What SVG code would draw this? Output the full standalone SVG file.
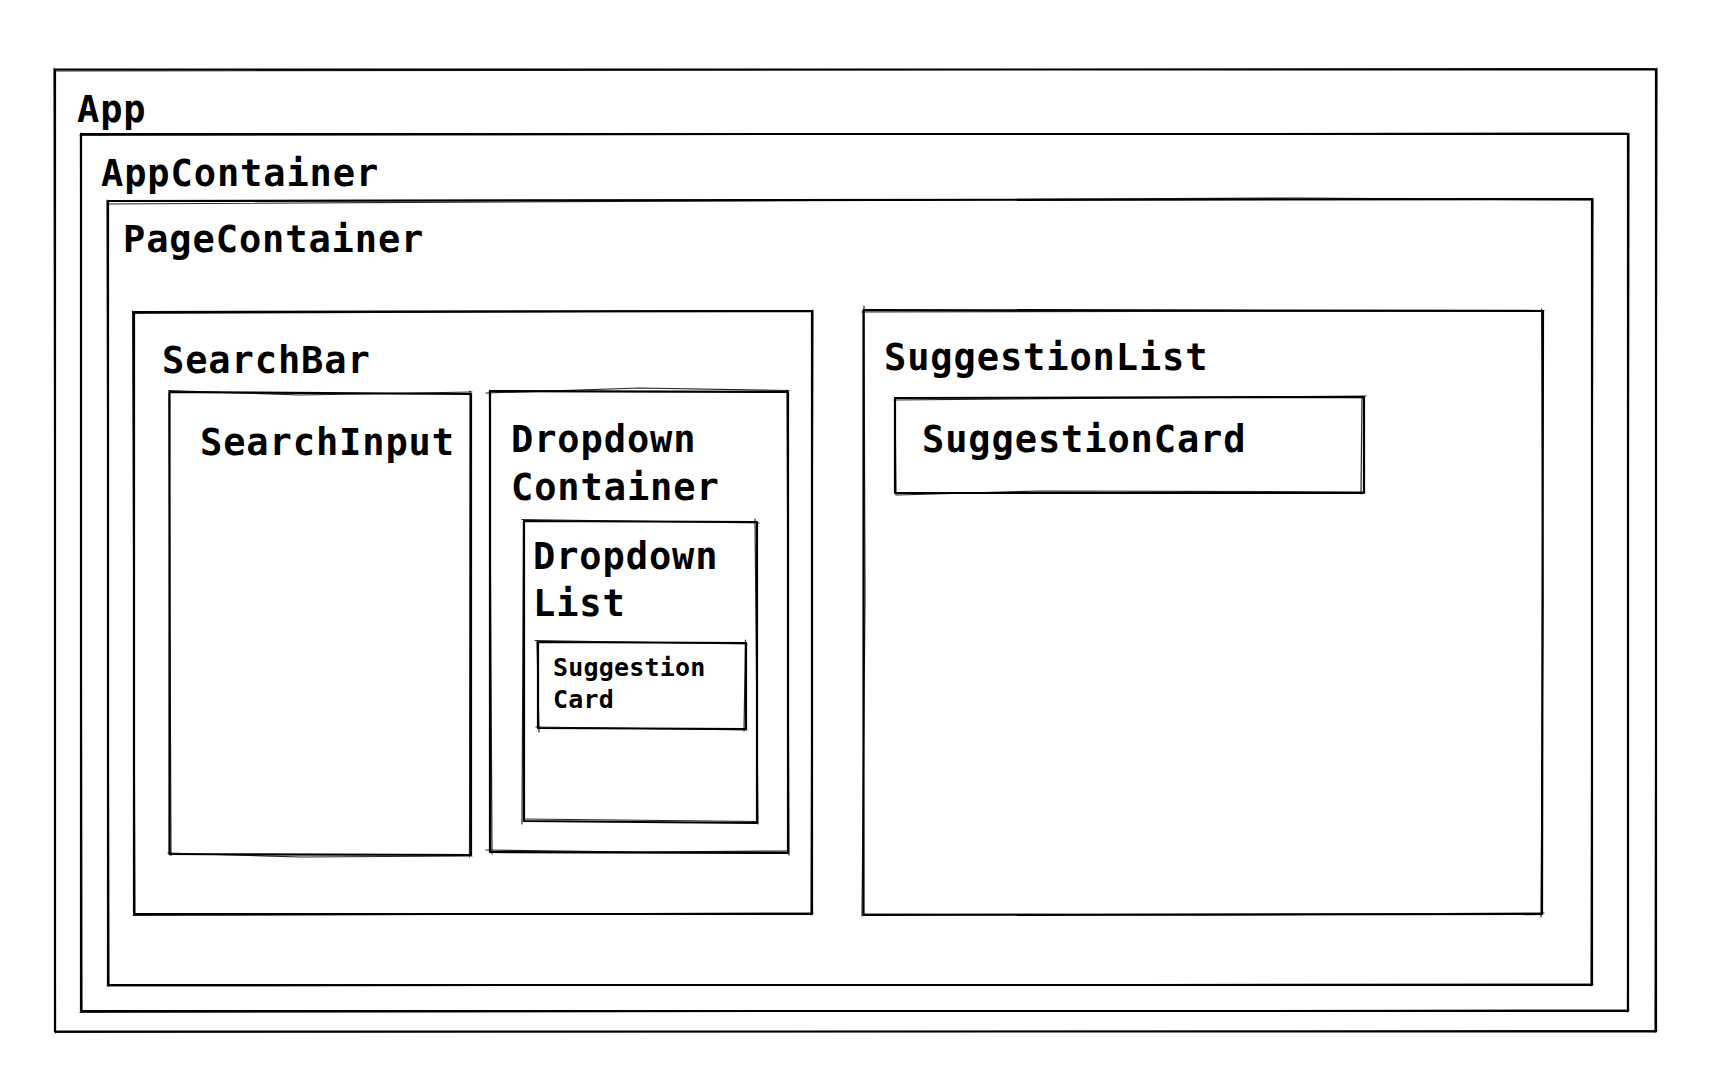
<svg xmlns="http://www.w3.org/2000/svg" width="1716" height="1090" viewBox="0 0 1716 1090">
<style>
.b{fill:none;stroke:#000;stroke-width:2.2;stroke-linecap:round;stroke-linejoin:round}
.j{fill:none;stroke:#000;stroke-width:1.2;stroke-linecap:round;opacity:0.85}
.t{font-family:"DejaVu Sans Mono","Liberation Mono",monospace;font-size:37px;font-weight:bold;letter-spacing:0.9px;fill:#000}
.s{font-family:"DejaVu Sans Mono","Liberation Mono",monospace;font-size:25px;font-weight:bold;letter-spacing:0.2px;fill:#000}
</style>
<rect width="1716" height="1090" fill="#fff"/>
<g id="App">
<path class="b" d="M55 69.5 L1656 69.5 L1656 1031.5 L55 1031.5 Z"/>
<path class="j" d="M54 71 L1655 68.5 M1657 68 L1655 1032 M1657 1030.5 L56 1032.5 M55.5 1033 L54 68"/>
<text class="t" x="77" y="121.5">App</text>
</g>
<g id="AppContainer">
<path class="b" d="M81 134 L1628 134 L1628 1011 L81 1011 Z"/>
<path class="j" d="M80 135.5 L1627 133 M1629 133 L1627.5 1012 M1629 1010 L80 1012.5 M82 1012.5 L80.5 133"/>
<text class="t" x="101" y="186">AppContainer</text>
</g>
<g id="PageContainer">
<path class="b" d="M108 201 L1592 199 L1592 985 L108 985 Z"/>
<path class="j" d="M107 204 L1300 198 L1591 200 M1593 198.5 L1591 986 M1593 984 L107 986 M109 986.5 L107 200"/>
<text class="t" x="123" y="252">PageContainer</text>
</g>
<g id="SearchBar">
<path class="b" d="M134 312 L812 311 L812 914 L134 914 Z"/>
<path class="j" d="M133 313.5 L811 310.5 M813 310 L811 915 M813 913 L133 915.5 M135 915 L132.5 311"/>
<text class="t" x="162" y="372.5">SearchBar</text>
</g>
<g id="SearchInput">
<path class="b" d="M169.5 392 L471 394 L471 855 L169.5 854 Z"/>
<path class="j" d="M168.5 390.5 L300 395 L472 392 M470 391 L469.5 857 M472 856 L300 857 L168 853 M171 855.5 L169 393"/>
<text class="t" x="200" y="455">SearchInput</text>
</g>
<g id="DropdownContainer">
<path class="b" d="M490 391 L788 392 L788 853 L490 852 Z"/>
<path class="j" d="M486 393 L640 388 L789 390.5 M787 390 L789 855 M789 851 L640 852 L486 850 M492 854 L489.5 390"/>
<text class="t" x="511" y="452">Dropdown</text>
<text class="t" x="511" y="499.5">Container</text>
</g>
<g id="DropdownList">
<path class="b" d="M524 521 L757 522 L757 823 L524 821 Z"/>
<path class="j" d="M522 519.5 L759 523 M755 519 L758 824 M758 821.5 L524 819 M522 824 L523.5 520"/>
<text class="t" x="533" y="568.5">Dropdown</text>
<text class="t" x="533" y="616">List</text>
</g>
<g id="SuggestionCardSmall">
<path class="b" d="M538 642 L746 643 L746 729 L538 728 Z"/>
<path class="j" d="M535 640.5 L747 644 M745.5 640 L744 731 M747 730 L536 727 M539 732 L537 641"/>
<text class="s" x="553" y="676">Suggestion</text>
<text class="s" x="553" y="708">Card</text>
</g>
<g id="SuggestionList">
<path class="b" d="M863.5 310 L1543 311 L1542 914 L863.5 915 Z"/>
<path class="j" d="M864 306 L865 600 L862 916 M862 312 L1544 310.5 M1541.5 309 L1543 600 L1541 917 M1544 913 L1200 915 L864 914"/>
<text class="t" x="884" y="370">SuggestionList</text>
</g>
<g id="SuggestionCard">
<path class="b" d="M895 398 L1364 397 L1364 493 L895 493 Z"/>
<path class="j" d="M894 400 L1366 396 M1362 396 L1361 494 M1365 492 L1040 491 L897 495 M896 495 L895 399"/>
<text class="t" x="922" y="452">SuggestionCard</text>
</g>
<g id="connectors"></g>
</svg>
